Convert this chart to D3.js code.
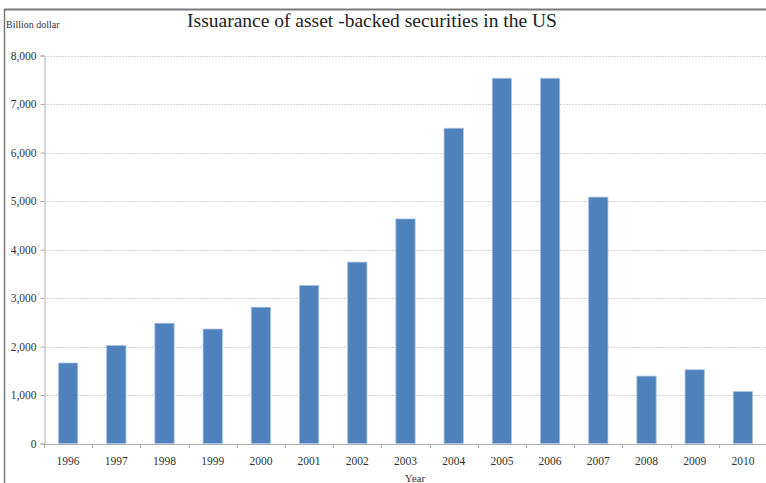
<!DOCTYPE html>
<html>
<head>
<meta charset="utf-8">
<script src="https://cdn.jsdelivr.net/npm/d3@7"></script>
<style>
  html, body { margin: 0; padding: 0; background: #fff; }
  svg { display: block; }
</style>
</head>
<body>
<script>
const years = ["1996","1997","1998","1999","2000","2001","2002","2003","2004","2005","2006","2007","2008","2009","2010"];
const issuance = [1660, 2020, 2480, 2360, 2810, 3260, 3740, 4630, 6500, 7530, 7530, 5080, 1390, 1520, 1070];
const yTicks = [0, 1000, 2000, 3000, 4000, 5000, 6000, 7000, 8000];
const titleText = "Issuarance of asset -backed securities in the US";
const yAxisTitle = "Billion dollar";
const xAxisTitle = "Year";

const W = 766, H = 483;
const svg = d3.select("body").append("svg").attr("width", W).attr("height", H);
const font = "'Liberation Serif', 'Times New Roman', serif";

// frame
svg.append("line").attr("x1", 4).attr("x2", W).attr("y1", 9.5).attr("y2", 9.5)
  .attr("stroke", "#7a7a7a").attr("stroke-width", 2);
svg.append("line").attr("x1", 4.5).attr("x2", 4.5).attr("y1", 9).attr("y2", H)
  .attr("stroke", "#7a7a7a").attr("stroke-width", 1.5);

const x = d3.scaleBand().domain(years).range([44, 767]).paddingInner(0.6).paddingOuter(0.3);
const y = d3.scaleLinear().domain([0, 8000]).range([443.5, 55.5]);

// gridlines
svg.append("g").selectAll("line").data(yTicks.filter(d => d > 0)).join("line")
  .attr("x1", 44).attr("x2", W)
  .attr("y1", d => Math.round(y(d)) + 0.5).attr("y2", d => Math.round(y(d)) + 0.5)
  .attr("stroke", "#d4d4d4").attr("stroke-width", 1).attr("stroke-dasharray", "2,1");

// bars
svg.append("g").selectAll("rect").data(years).join("rect")
  .attr("x", (d) => x(d))
  .attr("width", x.bandwidth())
  .attr("y", (d, i) => y(issuance[i]))
  .attr("height", (d, i) => y(0) - y(issuance[i]))
  .attr("fill", "#4f81bd")
  .attr("stroke", "#a9c2e0").attr("stroke-width", 0.8);

// y axis
const yAxis = d3.axisLeft(y).tickValues(yTicks).tickSize(4).tickPadding(4)
  .tickFormat(d3.format(","));
const gy = svg.append("g").attr("transform", "translate(44.5,0)").call(yAxis);
gy.select(".domain").attr("stroke", "#b0b0b0");
gy.selectAll(".tick line").attr("stroke", "#b0b0b0");
gy.selectAll("text").attr("font-family", font).attr("font-size", 11.5).attr("fill", "#333");

// x axis with ticks between categories
const gx = svg.append("g").attr("transform", "translate(0,444)");
gx.append("line").attr("x1", 44).attr("x2", W).attr("y1", 0.5).attr("y2", 0.5).attr("stroke", "#b0b0b0");
const step = x.step();
const boundaries = years.map((d, i) => x(d) + x.bandwidth() / 2 - step / 2).concat([x(years[years.length-1]) + x.bandwidth()/2 + step/2]);
gx.selectAll("line.tk").data(boundaries).join("line").attr("class", "tk")
  .attr("x1", d => Math.round(d) + 0.5).attr("x2", d => Math.round(d) + 0.5)
  .attr("y1", 0).attr("y2", 4).attr("stroke", "#b0b0b0");
gx.selectAll("text").data(years).join("text")
  .attr("x", d => x(d) + x.bandwidth() / 2).attr("y", 21)
  .attr("text-anchor", "middle").attr("font-family", font).attr("font-size", 11.5).attr("fill", "#333")
  .text(d => d);

// titles
svg.append("text").attr("x", 372).attr("y", 27).attr("text-anchor", "middle")
  .attr("font-family", font).attr("font-size", 19.5).attr("fill", "#222").text(titleText);
svg.append("text").attr("x", 6).attr("y", 28)
  .attr("font-family", font).attr("font-size", 10).attr("fill", "#333").text(yAxisTitle);
svg.append("text").attr("x", 415).attr("y", 482).attr("text-anchor", "middle")
  .attr("font-family", font).attr("font-size", 11).attr("fill", "#333").text(xAxisTitle);
</script>
</body>
</html>
